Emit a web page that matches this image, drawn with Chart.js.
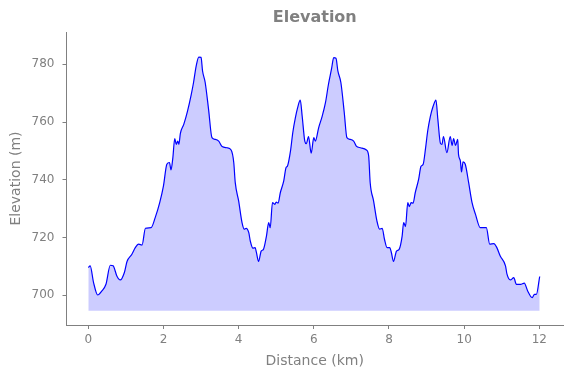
<!DOCTYPE html>
<html>
<head>
<meta charset="utf-8">
<script src="https://cdn.jsdelivr.net/npm/chart.js@4"></script>
<style>
  html, body { margin: 0; padding: 0; background: #fff; }
  #wrap { width: 571px; height: 378px; }
</style>
</head>
<body>
<div id="wrap"><canvas id="chart" width="571" height="378"></canvas></div>
<script>
// distance along the route (km) and elevation (m)
const distanceKm = [
    0.00, 0.05, 0.14, 0.25, 0.36, 0.47, 0.585, 0.66, 0.76, 0.85, 0.96, 1.03, 1.16, 1.25, 1.34, 1.43,
    1.52, 1.67, 1.78, 1.90, 2.00, 2.09, 2.16, 2.20, 2.25, 2.30, 2.34, 2.38, 2.41, 2.45, 2.54, 2.64,
    2.74, 2.80, 2.87, 2.94, 3.00, 3.04, 3.11, 3.20, 3.29, 3.38, 3.47, 3.56, 3.69, 3.80, 3.87, 3.91,
    4.00, 4.09, 4.15, 4.20, 4.27, 4.31, 4.38, 4.44, 4.47, 4.53, 4.60, 4.66, 4.74, 4.80, 4.84, 4.90,
    4.96, 5.00, 5.05, 5.11, 5.20, 5.26, 5.30, 5.38, 5.44, 5.51, 5.57, 5.64, 5.69, 5.76, 5.80, 5.86,
    5.93, 6.00, 6.04, 6.13, 6.22, 6.31, 6.39, 6.47, 6.53, 6.59, 6.64, 6.72, 6.81, 6.88, 6.97, 7.06,
    7.13, 7.24, 7.40, 7.46, 7.50, 7.59, 7.68, 7.75, 7.82, 7.88, 7.95, 8.02, 8.06, 8.12, 8.20, 8.27,
    8.35, 8.39, 8.44, 8.50, 8.54, 8.59, 8.64, 8.70, 8.79, 8.85, 8.91, 8.97, 9.03, 9.10, 9.17, 9.25,
    9.30, 9.37, 9.41, 9.45, 9.54, 9.63, 9.68, 9.72, 9.77, 9.83, 9.85, 9.90, 9.93, 9.97, 10.03, 10.12,
    10.21, 10.30, 10.43, 10.59, 10.68, 10.79, 10.87, 10.96, 11.10, 11.14, 11.23, 11.32, 11.39, 11.50, 11.60, 11.69,
    11.81, 11.87, 11.92, 12.01
];
const elevationM = [
    709.6, 710.2, 704.4, 700.1, 701.5, 703.8, 710.4, 710.2, 706.7, 705.3, 707.9, 711.7, 714.2, 716.5, 717.7, 717.4,
    723.2, 723.4, 726.9, 732.1, 737.9, 745.4, 746.0, 743.4, 747.7, 754.3, 752.3, 753.4, 752.3, 756.1, 759.2, 763.8,
    769.6, 773.7, 779.4, 782.5, 782.4, 777.7, 773.7, 764.4, 754.6, 754.0, 753.4, 751.5, 751.1, 750.3, 746.0, 739.0,
    732.7, 725.2, 722.9, 723.2, 721.7, 718.8, 716.3, 716.5, 715.0, 711.7, 715.3, 715.9, 720.5, 725.2, 723.4, 732.1,
    731.5, 732.3, 731.9, 735.6, 739.6, 744.2, 744.8, 750.0, 756.3, 761.5, 765.0, 767.6, 762.1, 753.4, 752.5, 755.0,
    749.2, 754.6, 753.4, 758.1, 761.9, 766.7, 773.1, 778.3, 782.3, 782.1, 777.7, 773.7, 763.3, 754.6, 754.0, 753.4,
    751.7, 751.1, 750.3, 748.2, 739.0, 732.7, 725.7, 722.9, 723.2, 719.4, 716.5, 716.5, 715.0, 711.7, 715.3, 715.9,
    720.5, 725.2, 723.8, 732.1, 730.7, 732.1, 731.9, 735.6, 740.2, 744.6, 745.4, 750.6, 756.9, 761.9, 765.3, 767.6,
    761.0, 752.6, 752.3, 755.0, 749.4, 755.0, 751.9, 754.3, 751.9, 754.0, 748.8, 746.5, 742.7, 746.2, 745.4, 739.0,
    732.1, 728.1, 723.4, 723.4, 717.7, 717.9, 716.5, 713.6, 710.2, 707.3, 705.3, 706.1, 703.8, 703.8, 704.2, 701.5,
    699.2, 700.3, 700.3, 706.5
];
const fillBase = 694.6;
const xTicks = [0, 2, 4, 6, 8, 10, 12];
const yTicks = [700, 720, 740, 760, 780];

const grey = '#808080';
const font = 'DejaVu Sans';

const points = distanceKm.map((d, i) => ({ x: d, y: elevationM[i] }));

new Chart(document.getElementById('chart').getContext('2d'), {
    type: 'line',
    data: {
        datasets: [{
            data: points,
            borderColor: '#0000ff',
            borderWidth: 1.2,
            backgroundColor: 'rgba(0, 0, 255, 0.2)',
            fill: { value: fillBase },
            pointRadius: 0,
            cubicInterpolationMode: 'monotone'
        }]
    },
    options: {
        responsive: false,
        animation: false,
        layout: { padding: { left: 0, right: 8, top: 0, bottom: 0 } },
        plugins: {
            legend: { display: false },
            tooltip: { enabled: false },
            title: {
                display: true,
                text: 'Elevation',
                fullSize: false,
                color: grey,
                font: { family: font, size: 16, weight: 'bold' },
                padding: { top: 8, bottom: 4.8 }
            }
        },
        scales: {
            x: {
                type: 'linear',
                min: -0.58,
                max: 12.63,
                afterBuildTicks: s => { s.ticks = xTicks.map(v => ({ value: v })); },
                afterFit: s => { s.height = 53; },
                grid: { drawOnChartArea: false, drawTicks: true, tickLength: 4, color: grey },
                border: { display: true, color: grey, width: 1 },
                ticks: { color: grey, font: { family: font, size: 12 }, padding: 4, maxRotation: 0 },
                title: {
                    display: true, text: 'Distance (km)', color: grey,
                    font: { family: font, size: 14 }, padding: { top: 0, bottom: 8 }
                }
            },
            y: {
                min: 689.7,
                max: 791.2,
                afterBuildTicks: s => { s.ticks = yTicks.map(v => ({ value: v })); },
                afterFit: s => { s.width = 66.5; },
                grid: { drawOnChartArea: false, drawTicks: true, tickLength: 4, color: grey },
                border: { display: true, color: grey, width: 1 },
                ticks: { color: grey, font: { family: font, size: 12 }, padding: 8 },
                title: {
                    display: true, text: 'Elevation (m)', color: grey,
                    font: { family: font, size: 14 }, padding: { top: 8, bottom: 0 }
                }
            }
        }
    }
});
</script>
</body>
</html>
